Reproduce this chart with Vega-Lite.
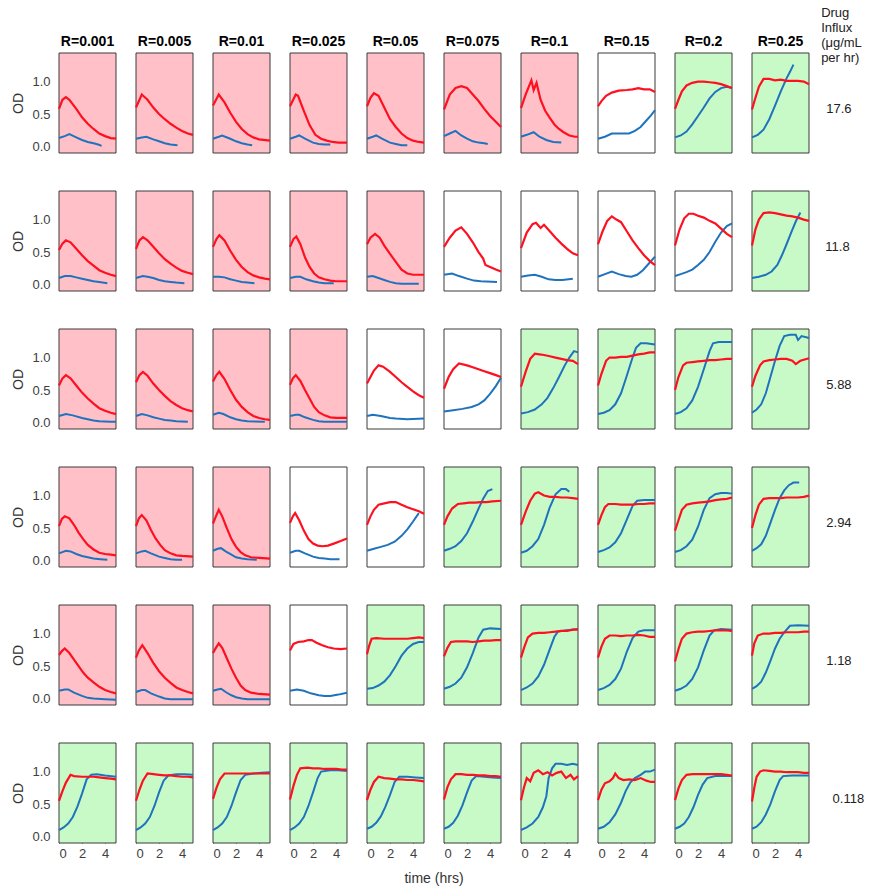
{"$schema":"https://vega.github.io/schema/vega-lite/v6.json","padding":{"left":11,"top":7,"right":2,"bottom":5},"background":"white","bounds":"flush",
"title":{"text":["Drug","Influx","(μg/mL","per hr)"],"orient":"top","anchor":"end","frame":"bounds","angle":0,"align":"left","baseline":"bottom","dx":-43,"fontSize":13,"fontWeight":"normal","font":"Liberation Sans","lineHeight":15,"offset":-43,"color":"#222"},
"datasets":{"panels":[
{"p":0,"R":"0.001","D":"17.6","bg":"k"},{"p":1,"R":"0.005","D":"17.6","bg":"k"},{"p":2,"R":"0.01","D":"17.6","bg":"k"},{"p":3,"R":"0.025","D":"17.6","bg":"k"},{"p":4,"R":"0.05","D":"17.6","bg":"k"},{"p":5,"R":"0.075","D":"17.6","bg":"k"},{"p":6,"R":"0.1","D":"17.6","bg":"k"},{"p":7,"R":"0.15","D":"17.6","bg":"n"},{"p":8,"R":"0.2","D":"17.6","bg":"g"},{"p":9,"R":"0.25","D":"17.6","bg":"g"},
{"p":10,"R":"0.001","D":"11.8","bg":"k"},{"p":11,"R":"0.005","D":"11.8","bg":"k"},{"p":12,"R":"0.01","D":"11.8","bg":"k"},{"p":13,"R":"0.025","D":"11.8","bg":"k"},{"p":14,"R":"0.05","D":"11.8","bg":"k"},{"p":15,"R":"0.075","D":"11.8","bg":"n"},{"p":16,"R":"0.1","D":"11.8","bg":"n"},{"p":17,"R":"0.15","D":"11.8","bg":"n"},{"p":18,"R":"0.2","D":"11.8","bg":"n"},{"p":19,"R":"0.25","D":"11.8","bg":"g"},
{"p":20,"R":"0.001","D":"5.88","bg":"k"},{"p":21,"R":"0.005","D":"5.88","bg":"k"},{"p":22,"R":"0.01","D":"5.88","bg":"k"},{"p":23,"R":"0.025","D":"5.88","bg":"k"},{"p":24,"R":"0.05","D":"5.88","bg":"n"},{"p":25,"R":"0.075","D":"5.88","bg":"n"},{"p":26,"R":"0.1","D":"5.88","bg":"g"},{"p":27,"R":"0.15","D":"5.88","bg":"g"},{"p":28,"R":"0.2","D":"5.88","bg":"g"},{"p":29,"R":"0.25","D":"5.88","bg":"g"},
{"p":30,"R":"0.001","D":"2.94","bg":"k"},{"p":31,"R":"0.005","D":"2.94","bg":"k"},{"p":32,"R":"0.01","D":"2.94","bg":"k"},{"p":33,"R":"0.025","D":"2.94","bg":"n"},{"p":34,"R":"0.05","D":"2.94","bg":"n"},{"p":35,"R":"0.075","D":"2.94","bg":"g"},{"p":36,"R":"0.1","D":"2.94","bg":"g"},{"p":37,"R":"0.15","D":"2.94","bg":"g"},{"p":38,"R":"0.2","D":"2.94","bg":"g"},{"p":39,"R":"0.25","D":"2.94","bg":"g"},
{"p":40,"R":"0.001","D":"1.18","bg":"k"},{"p":41,"R":"0.005","D":"1.18","bg":"k"},{"p":42,"R":"0.01","D":"1.18","bg":"k"},{"p":43,"R":"0.025","D":"1.18","bg":"n"},{"p":44,"R":"0.05","D":"1.18","bg":"g"},{"p":45,"R":"0.075","D":"1.18","bg":"g"},{"p":46,"R":"0.1","D":"1.18","bg":"g"},{"p":47,"R":"0.15","D":"1.18","bg":"g"},{"p":48,"R":"0.2","D":"1.18","bg":"g"},{"p":49,"R":"0.25","D":"1.18","bg":"g"},
{"p":50,"R":"0.001","D":"0.118","bg":"g"},{"p":51,"R":"0.005","D":"0.118","bg":"g"},{"p":52,"R":"0.01","D":"0.118","bg":"g"},{"p":53,"R":"0.025","D":"0.118","bg":"g"},{"p":54,"R":"0.05","D":"0.118","bg":"g"},{"p":55,"R":"0.075","D":"0.118","bg":"g"},{"p":56,"R":"0.1","D":"0.118","bg":"g"},{"p":57,"R":"0.15","D":"0.118","bg":"g"},{"p":58,"R":"0.2","D":"0.118","bg":"g"},{"p":59,"R":"0.25","D":"0.118","bg":"g"}
],
"curves":[
{"p":0,"s":"r","t":0,"y":0.58},{"p":0,"s":"r","t":0.3,"y":0.72},{"p":0,"s":"r","t":0.6,"y":0.76},{"p":0,"s":"r","t":0.9,"y":0.72},{"p":0,"s":"r","t":1.5,"y":0.58},{"p":0,"s":"r","t":2,"y":0.45},{"p":0,"s":"r","t":2.5,"y":0.35},{"p":0,"s":"r","t":3,"y":0.27},{"p":0,"s":"r","t":3.5,"y":0.2},{"p":0,"s":"r","t":4,"y":0.16},{"p":0,"s":"r","t":4.5,"y":0.13},{"p":0,"s":"r","t":4.95,"y":0.12},
{"p":0,"s":"b","t":0,"y":0.13},{"p":0,"s":"b","t":0.5,"y":0.16},{"p":0,"s":"b","t":0.9,"y":0.19},{"p":0,"s":"b","t":1.5,"y":0.14},{"p":0,"s":"b","t":2,"y":0.1},{"p":0,"s":"b","t":2.5,"y":0.07},{"p":0,"s":"b","t":3,"y":0.05},{"p":0,"s":"b","t":3.4,"y":0.03},{"p":0,"s":"b","t":3.7,"y":0.01},
{"p":1,"s":"r","t":0,"y":0.6},{"p":1,"s":"r","t":0.5,"y":0.8},{"p":1,"s":"r","t":1,"y":0.72},{"p":1,"s":"r","t":1.5,"y":0.6},{"p":1,"s":"r","t":2,"y":0.5},{"p":1,"s":"r","t":2.5,"y":0.42},{"p":1,"s":"r","t":3,"y":0.35},{"p":1,"s":"r","t":3.5,"y":0.29},{"p":1,"s":"r","t":4,"y":0.24},{"p":1,"s":"r","t":4.5,"y":0.2},{"p":1,"s":"r","t":4.95,"y":0.18},
{"p":1,"s":"b","t":0,"y":0.12},{"p":1,"s":"b","t":0.5,"y":0.14},{"p":1,"s":"b","t":0.9,"y":0.15},{"p":1,"s":"b","t":1.5,"y":0.11},{"p":1,"s":"b","t":2,"y":0.08},{"p":1,"s":"b","t":2.5,"y":0.05},{"p":1,"s":"b","t":3,"y":0.03},{"p":1,"s":"b","t":3.6,"y":0.02},
{"p":2,"s":"r","t":0,"y":0.63},{"p":2,"s":"r","t":0.5,"y":0.8},{"p":2,"s":"r","t":1,"y":0.68},{"p":2,"s":"r","t":1.5,"y":0.52},{"p":2,"s":"r","t":2,"y":0.38},{"p":2,"s":"r","t":2.5,"y":0.27},{"p":2,"s":"r","t":3,"y":0.19},{"p":2,"s":"r","t":3.5,"y":0.14},{"p":2,"s":"r","t":4,"y":0.11},{"p":2,"s":"r","t":4.95,"y":0.09},
{"p":2,"s":"b","t":0,"y":0.12},{"p":2,"s":"b","t":0.5,"y":0.15},{"p":2,"s":"b","t":0.8,"y":0.17},{"p":2,"s":"b","t":1.5,"y":0.12},{"p":2,"s":"b","t":2,"y":0.08},{"p":2,"s":"b","t":2.5,"y":0.05},{"p":2,"s":"b","t":3,"y":0.03},{"p":2,"s":"b","t":3.4,"y":0.02},
{"p":3,"s":"r","t":0,"y":0.62},{"p":3,"s":"r","t":0.5,"y":0.8},{"p":3,"s":"r","t":0.7,"y":0.78},{"p":3,"s":"r","t":1.2,"y":0.55},{"p":3,"s":"r","t":1.7,"y":0.33},{"p":3,"s":"r","t":2.2,"y":0.18},{"p":3,"s":"r","t":2.7,"y":0.12},{"p":3,"s":"r","t":3.2,"y":0.09},{"p":3,"s":"r","t":3.7,"y":0.07},{"p":3,"s":"r","t":4.2,"y":0.06},{"p":3,"s":"r","t":4.95,"y":0.06},
{"p":3,"s":"b","t":0,"y":0.12},{"p":3,"s":"b","t":0.5,"y":0.15},{"p":3,"s":"b","t":0.8,"y":0.17},{"p":3,"s":"b","t":1.3,"y":0.12},{"p":3,"s":"b","t":2,"y":0.06},{"p":3,"s":"b","t":2.5,"y":0.04},{"p":3,"s":"b","t":3,"y":0.03},{"p":3,"s":"b","t":3.5,"y":0.03},
{"p":4,"s":"r","t":0,"y":0.62},{"p":4,"s":"r","t":0.3,"y":0.75},{"p":4,"s":"r","t":0.6,"y":0.82},{"p":4,"s":"r","t":1,"y":0.78},{"p":4,"s":"r","t":1.5,"y":0.6},{"p":4,"s":"r","t":2,"y":0.42},{"p":4,"s":"r","t":2.5,"y":0.3},{"p":4,"s":"r","t":3,"y":0.2},{"p":4,"s":"r","t":3.5,"y":0.13},{"p":4,"s":"r","t":4,"y":0.09},{"p":4,"s":"r","t":4.5,"y":0.07},{"p":4,"s":"r","t":4.95,"y":0.06},
{"p":4,"s":"b","t":0,"y":0.12},{"p":4,"s":"b","t":0.5,"y":0.15},{"p":4,"s":"b","t":0.8,"y":0.17},{"p":4,"s":"b","t":1.3,"y":0.12},{"p":4,"s":"b","t":2,"y":0.06},{"p":4,"s":"b","t":2.5,"y":0.04},{"p":4,"s":"b","t":3,"y":0.02},{"p":4,"s":"b","t":3.5,"y":0.02},
{"p":5,"s":"r","t":0,"y":0.57},{"p":5,"s":"r","t":0.5,"y":0.8},{"p":5,"s":"r","t":1,"y":0.9},{"p":5,"s":"r","t":1.5,"y":0.93},{"p":5,"s":"r","t":2,"y":0.9},{"p":5,"s":"r","t":2.5,"y":0.8},{"p":5,"s":"r","t":3,"y":0.7},{"p":5,"s":"r","t":3.5,"y":0.58},{"p":5,"s":"r","t":4,"y":0.47},{"p":5,"s":"r","t":4.5,"y":0.38},{"p":5,"s":"r","t":4.95,"y":0.3},
{"p":5,"s":"b","t":0,"y":0.16},{"p":5,"s":"b","t":0.5,"y":0.2},{"p":5,"s":"b","t":1,"y":0.24},{"p":5,"s":"b","t":1.5,"y":0.17},{"p":5,"s":"b","t":2,"y":0.12},{"p":5,"s":"b","t":2.5,"y":0.08},{"p":5,"s":"b","t":3,"y":0.06},{"p":5,"s":"b","t":3.5,"y":0.05},{"p":5,"s":"b","t":3.8,"y":0.04},
{"p":6,"s":"r","t":0,"y":0.59},{"p":6,"s":"r","t":0.4,"y":0.8},{"p":6,"s":"r","t":0.9,"y":1.02},{"p":6,"s":"r","t":1.1,"y":0.87},{"p":6,"s":"r","t":1.35,"y":0.98},{"p":6,"s":"r","t":1.7,"y":0.72},{"p":6,"s":"r","t":2.1,"y":0.55},{"p":6,"s":"r","t":2.5,"y":0.44},{"p":6,"s":"r","t":2.9,"y":0.34},{"p":6,"s":"r","t":3.3,"y":0.27},{"p":6,"s":"r","t":3.7,"y":0.22},{"p":6,"s":"r","t":4.2,"y":0.17},{"p":6,"s":"r","t":4.7,"y":0.15},{"p":6,"s":"r","t":4.95,"y":0.15},
{"p":6,"s":"b","t":0,"y":0.15},{"p":6,"s":"b","t":0.5,"y":0.18},{"p":6,"s":"b","t":1.1,"y":0.22},{"p":6,"s":"b","t":1.6,"y":0.15},{"p":6,"s":"b","t":2.2,"y":0.1},{"p":6,"s":"b","t":2.8,"y":0.07},{"p":6,"s":"b","t":3.5,"y":0.06},
{"p":7,"s":"r","t":0,"y":0.62},{"p":7,"s":"r","t":0.3,"y":0.7},{"p":7,"s":"r","t":0.7,"y":0.78},{"p":7,"s":"r","t":1.2,"y":0.83},{"p":7,"s":"r","t":1.8,"y":0.86},{"p":7,"s":"r","t":2.5,"y":0.87},{"p":7,"s":"r","t":3,"y":0.88},{"p":7,"s":"r","t":3.5,"y":0.9},{"p":7,"s":"r","t":4,"y":0.88},{"p":7,"s":"r","t":4.5,"y":0.88},{"p":7,"s":"r","t":4.95,"y":0.84},
{"p":7,"s":"b","t":0,"y":0.12},{"p":7,"s":"b","t":0.6,"y":0.15},{"p":7,"s":"b","t":1.2,"y":0.2},{"p":7,"s":"b","t":2,"y":0.2},{"p":7,"s":"b","t":2.7,"y":0.2},{"p":7,"s":"b","t":3.2,"y":0.24},{"p":7,"s":"b","t":3.7,"y":0.3},{"p":7,"s":"b","t":4.2,"y":0.4},{"p":7,"s":"b","t":4.6,"y":0.48},{"p":7,"s":"b","t":4.95,"y":0.56},
{"p":8,"s":"r","t":0,"y":0.58},{"p":8,"s":"r","t":0.3,"y":0.72},{"p":8,"s":"r","t":0.6,"y":0.85},{"p":8,"s":"r","t":1,"y":0.94},{"p":8,"s":"r","t":1.5,"y":0.98},{"p":8,"s":"r","t":2,"y":1},{"p":8,"s":"r","t":2.5,"y":1},{"p":8,"s":"r","t":3,"y":0.99},{"p":8,"s":"r","t":3.5,"y":0.98},{"p":8,"s":"r","t":4,"y":0.96},{"p":8,"s":"r","t":4.5,"y":0.93},{"p":8,"s":"r","t":4.95,"y":0.9},
{"p":8,"s":"b","t":0,"y":0.14},{"p":8,"s":"b","t":0.5,"y":0.17},{"p":8,"s":"b","t":1,"y":0.23},{"p":8,"s":"b","t":1.5,"y":0.34},{"p":8,"s":"b","t":2,"y":0.47},{"p":8,"s":"b","t":2.5,"y":0.6},{"p":8,"s":"b","t":3,"y":0.74},{"p":8,"s":"b","t":3.5,"y":0.84},{"p":8,"s":"b","t":4,"y":0.9},{"p":8,"s":"b","t":4.5,"y":0.92},{"p":8,"s":"b","t":4.95,"y":0.9},
{"p":9,"s":"r","t":0,"y":0.57},{"p":9,"s":"r","t":0.3,"y":0.75},{"p":9,"s":"r","t":0.6,"y":0.92},{"p":9,"s":"r","t":1,"y":1.04},{"p":9,"s":"r","t":1.5,"y":1.04},{"p":9,"s":"r","t":2,"y":1.02},{"p":9,"s":"r","t":2.5,"y":1.03},{"p":9,"s":"r","t":3,"y":1.01},{"p":9,"s":"r","t":3.5,"y":1.01},{"p":9,"s":"r","t":4,"y":1.01},{"p":9,"s":"r","t":4.5,"y":1},{"p":9,"s":"r","t":4.95,"y":0.96},
{"p":9,"s":"b","t":0,"y":0.14},{"p":9,"s":"b","t":0.5,"y":0.18},{"p":9,"s":"b","t":1,"y":0.26},{"p":9,"s":"b","t":1.5,"y":0.42},{"p":9,"s":"b","t":2,"y":0.63},{"p":9,"s":"b","t":2.5,"y":0.85},{"p":9,"s":"b","t":3,"y":1.05},{"p":9,"s":"b","t":3.3,"y":1.15},{"p":9,"s":"b","t":3.6,"y":1.26},
{"p":10,"s":"r","t":0,"y":0.53},{"p":10,"s":"r","t":0.3,"y":0.63},{"p":10,"s":"r","t":0.6,"y":0.68},{"p":10,"s":"r","t":1,"y":0.65},{"p":10,"s":"r","t":1.5,"y":0.55},{"p":10,"s":"r","t":2,"y":0.45},{"p":10,"s":"r","t":2.5,"y":0.36},{"p":10,"s":"r","t":3,"y":0.29},{"p":10,"s":"r","t":3.5,"y":0.22},{"p":10,"s":"r","t":4,"y":0.18},{"p":10,"s":"r","t":4.5,"y":0.15},{"p":10,"s":"r","t":4.95,"y":0.13},
{"p":10,"s":"b","t":0,"y":0.1},{"p":10,"s":"b","t":0.5,"y":0.13},{"p":10,"s":"b","t":1,"y":0.13},{"p":10,"s":"b","t":1.5,"y":0.11},{"p":10,"s":"b","t":2,"y":0.09},{"p":10,"s":"b","t":2.5,"y":0.07},{"p":10,"s":"b","t":3,"y":0.05},{"p":10,"s":"b","t":3.5,"y":0.04},{"p":10,"s":"b","t":4.2,"y":0.02},
{"p":11,"s":"r","t":0,"y":0.55},{"p":11,"s":"r","t":0.3,"y":0.68},{"p":11,"s":"r","t":0.6,"y":0.73},{"p":11,"s":"r","t":1,"y":0.68},{"p":11,"s":"r","t":1.5,"y":0.58},{"p":11,"s":"r","t":2,"y":0.48},{"p":11,"s":"r","t":2.5,"y":0.39},{"p":11,"s":"r","t":3,"y":0.32},{"p":11,"s":"r","t":3.5,"y":0.26},{"p":11,"s":"r","t":4,"y":0.21},{"p":11,"s":"r","t":4.5,"y":0.18},{"p":11,"s":"r","t":4.95,"y":0.16},
{"p":11,"s":"b","t":0,"y":0.1},{"p":11,"s":"b","t":0.6,"y":0.13},{"p":11,"s":"b","t":1,"y":0.12},{"p":11,"s":"b","t":1.5,"y":0.1},{"p":11,"s":"b","t":2,"y":0.07},{"p":11,"s":"b","t":2.5,"y":0.05},{"p":11,"s":"b","t":3,"y":0.04},{"p":11,"s":"b","t":3.5,"y":0.03},{"p":11,"s":"b","t":4.2,"y":0.02},
{"p":12,"s":"r","t":0,"y":0.58},{"p":12,"s":"r","t":0.3,"y":0.7},{"p":12,"s":"r","t":0.55,"y":0.76},{"p":12,"s":"r","t":1,"y":0.68},{"p":12,"s":"r","t":1.5,"y":0.52},{"p":12,"s":"r","t":2,"y":0.38},{"p":12,"s":"r","t":2.5,"y":0.27},{"p":12,"s":"r","t":3,"y":0.19},{"p":12,"s":"r","t":3.5,"y":0.14},{"p":12,"s":"r","t":4,"y":0.11},{"p":12,"s":"r","t":4.5,"y":0.09},{"p":12,"s":"r","t":4.95,"y":0.08},
{"p":12,"s":"b","t":0,"y":0.12},{"p":12,"s":"b","t":0.5,"y":0.12},{"p":12,"s":"b","t":1,"y":0.11},{"p":12,"s":"b","t":1.5,"y":0.08},{"p":12,"s":"b","t":2,"y":0.06},{"p":12,"s":"b","t":2.5,"y":0.04},{"p":12,"s":"b","t":3,"y":0.03},{"p":12,"s":"b","t":3.6,"y":0.02},
{"p":13,"s":"r","t":0,"y":0.58},{"p":13,"s":"r","t":0.3,"y":0.7},{"p":13,"s":"r","t":0.55,"y":0.74},{"p":13,"s":"r","t":0.9,"y":0.62},{"p":13,"s":"r","t":1.3,"y":0.42},{"p":13,"s":"r","t":1.7,"y":0.27},{"p":13,"s":"r","t":2.1,"y":0.17},{"p":13,"s":"r","t":2.5,"y":0.11},{"p":13,"s":"r","t":3,"y":0.08},{"p":13,"s":"r","t":3.5,"y":0.06},{"p":13,"s":"r","t":4,"y":0.05},{"p":13,"s":"r","t":4.95,"y":0.05},
{"p":13,"s":"b","t":0,"y":0.1},{"p":13,"s":"b","t":0.5,"y":0.12},{"p":13,"s":"b","t":0.9,"y":0.12},{"p":13,"s":"b","t":1.4,"y":0.08},{"p":13,"s":"b","t":2,"y":0.05},{"p":13,"s":"b","t":2.5,"y":0.03},{"p":13,"s":"b","t":3,"y":0.02},{"p":13,"s":"b","t":3.8,"y":0.02},
{"p":14,"s":"r","t":0,"y":0.62},{"p":14,"s":"r","t":0.3,"y":0.72},{"p":14,"s":"r","t":0.7,"y":0.78},{"p":14,"s":"r","t":1.1,"y":0.72},{"p":14,"s":"r","t":1.5,"y":0.6},{"p":14,"s":"r","t":2,"y":0.47},{"p":14,"s":"r","t":2.5,"y":0.35},{"p":14,"s":"r","t":3,"y":0.23},{"p":14,"s":"r","t":3.5,"y":0.17},{"p":14,"s":"r","t":4,"y":0.15},{"p":14,"s":"r","t":4.95,"y":0.15},
{"p":14,"s":"b","t":0,"y":0.12},{"p":14,"s":"b","t":0.5,"y":0.13},{"p":14,"s":"b","t":1,"y":0.1},{"p":14,"s":"b","t":1.5,"y":0.07},{"p":14,"s":"b","t":2,"y":0.04},{"p":14,"s":"b","t":2.5,"y":0.02},{"p":14,"s":"b","t":3,"y":0.01},{"p":14,"s":"b","t":4.5,"y":0.01},
{"p":15,"s":"r","t":0,"y":0.58},{"p":15,"s":"r","t":0.5,"y":0.72},{"p":15,"s":"r","t":1,"y":0.83},{"p":15,"s":"r","t":1.5,"y":0.88},{"p":15,"s":"r","t":2,"y":0.78},{"p":15,"s":"r","t":2.5,"y":0.65},{"p":15,"s":"r","t":3,"y":0.5},{"p":15,"s":"r","t":3.4,"y":0.4},{"p":15,"s":"r","t":3.6,"y":0.3},{"p":15,"s":"r","t":4,"y":0.27},{"p":15,"s":"r","t":4.5,"y":0.23},{"p":15,"s":"r","t":4.95,"y":0.2},
{"p":15,"s":"b","t":0,"y":0.15},{"p":15,"s":"b","t":0.7,"y":0.17},{"p":15,"s":"b","t":1.3,"y":0.13},{"p":15,"s":"b","t":2,"y":0.09},{"p":15,"s":"b","t":2.6,"y":0.06},{"p":15,"s":"b","t":3.2,"y":0.05},{"p":15,"s":"b","t":4.6,"y":0.04},
{"p":16,"s":"r","t":0,"y":0.56},{"p":16,"s":"r","t":0.5,"y":0.8},{"p":16,"s":"r","t":1,"y":0.93},{"p":16,"s":"r","t":1.3,"y":0.95},{"p":16,"s":"r","t":1.7,"y":0.87},{"p":16,"s":"r","t":2,"y":0.92},{"p":16,"s":"r","t":2.5,"y":0.82},{"p":16,"s":"r","t":3,"y":0.72},{"p":16,"s":"r","t":3.5,"y":0.63},{"p":16,"s":"r","t":4,"y":0.55},{"p":16,"s":"r","t":4.5,"y":0.48},{"p":16,"s":"r","t":4.95,"y":0.45},
{"p":16,"s":"b","t":0,"y":0.12},{"p":16,"s":"b","t":0.6,"y":0.14},{"p":16,"s":"b","t":1.2,"y":0.15},{"p":16,"s":"b","t":1.8,"y":0.12},{"p":16,"s":"b","t":2.4,"y":0.08},{"p":16,"s":"b","t":3,"y":0.07},{"p":16,"s":"b","t":3.6,"y":0.07},{"p":16,"s":"b","t":4.5,"y":0.09},
{"p":17,"s":"r","t":0,"y":0.62},{"p":17,"s":"r","t":0.4,"y":0.82},{"p":17,"s":"r","t":0.8,"y":0.98},{"p":17,"s":"r","t":1.2,"y":1.05},{"p":17,"s":"r","t":1.6,"y":1},{"p":17,"s":"r","t":2,"y":0.96},{"p":17,"s":"r","t":2.5,"y":0.82},{"p":17,"s":"r","t":3,"y":0.68},{"p":17,"s":"r","t":3.5,"y":0.56},{"p":17,"s":"r","t":4,"y":0.45},{"p":17,"s":"r","t":4.5,"y":0.36},{"p":17,"s":"r","t":4.95,"y":0.3},
{"p":17,"s":"b","t":0,"y":0.12},{"p":17,"s":"b","t":0.6,"y":0.16},{"p":17,"s":"b","t":1.2,"y":0.2},{"p":17,"s":"b","t":1.8,"y":0.16},{"p":17,"s":"b","t":2.4,"y":0.13},{"p":17,"s":"b","t":2.9,"y":0.12},{"p":17,"s":"b","t":3.4,"y":0.15},{"p":17,"s":"b","t":3.9,"y":0.22},{"p":17,"s":"b","t":4.4,"y":0.32},{"p":17,"s":"b","t":4.95,"y":0.43},
{"p":18,"s":"r","t":0,"y":0.6},{"p":18,"s":"r","t":0.4,"y":0.85},{"p":18,"s":"r","t":0.8,"y":1.02},{"p":18,"s":"r","t":1.2,"y":1.09},{"p":18,"s":"r","t":1.6,"y":1.09},{"p":18,"s":"r","t":2,"y":1.06},{"p":18,"s":"r","t":2.5,"y":1.03},{"p":18,"s":"r","t":3,"y":0.98},{"p":18,"s":"r","t":3.5,"y":0.94},{"p":18,"s":"r","t":4,"y":0.86},{"p":18,"s":"r","t":4.5,"y":0.78},{"p":18,"s":"r","t":4.95,"y":0.73},
{"p":18,"s":"b","t":0,"y":0.13},{"p":18,"s":"b","t":0.5,"y":0.16},{"p":18,"s":"b","t":1,"y":0.19},{"p":18,"s":"b","t":1.5,"y":0.23},{"p":18,"s":"b","t":2,"y":0.3},{"p":18,"s":"b","t":2.5,"y":0.38},{"p":18,"s":"b","t":3,"y":0.5},{"p":18,"s":"b","t":3.5,"y":0.66},{"p":18,"s":"b","t":4,"y":0.8},{"p":18,"s":"b","t":4.5,"y":0.9},{"p":18,"s":"b","t":4.95,"y":0.94},
{"p":19,"s":"r","t":0,"y":0.6},{"p":19,"s":"r","t":0.3,"y":0.85},{"p":19,"s":"r","t":0.6,"y":1},{"p":19,"s":"r","t":1,"y":1.1},{"p":19,"s":"r","t":1.5,"y":1.11},{"p":19,"s":"r","t":2,"y":1.1},{"p":19,"s":"r","t":2.5,"y":1.08},{"p":19,"s":"r","t":3,"y":1.06},{"p":19,"s":"r","t":3.5,"y":1.05},{"p":19,"s":"r","t":4,"y":1.03},{"p":19,"s":"r","t":4.5,"y":1},{"p":19,"s":"r","t":4.95,"y":0.98},
{"p":19,"s":"b","t":0,"y":0.1},{"p":19,"s":"b","t":0.6,"y":0.12},{"p":19,"s":"b","t":1.2,"y":0.15},{"p":19,"s":"b","t":1.7,"y":0.2},{"p":19,"s":"b","t":2.2,"y":0.3},{"p":19,"s":"b","t":2.6,"y":0.45},{"p":19,"s":"b","t":3,"y":0.62},{"p":19,"s":"b","t":3.4,"y":0.8},{"p":19,"s":"b","t":3.8,"y":0.97},{"p":19,"s":"b","t":4.2,"y":1.11},
{"p":20,"s":"r","t":0,"y":0.57},{"p":20,"s":"r","t":0.3,"y":0.68},{"p":20,"s":"r","t":0.6,"y":0.73},{"p":20,"s":"r","t":1,"y":0.68},{"p":20,"s":"r","t":1.5,"y":0.57},{"p":20,"s":"r","t":2,"y":0.46},{"p":20,"s":"r","t":2.5,"y":0.37},{"p":20,"s":"r","t":3,"y":0.29},{"p":20,"s":"r","t":3.5,"y":0.22},{"p":20,"s":"r","t":4,"y":0.18},{"p":20,"s":"r","t":4.5,"y":0.15},{"p":20,"s":"r","t":4.95,"y":0.13},
{"p":20,"s":"b","t":0,"y":0.1},{"p":20,"s":"b","t":0.6,"y":0.13},{"p":20,"s":"b","t":1.2,"y":0.11},{"p":20,"s":"b","t":2,"y":0.07},{"p":20,"s":"b","t":2.5,"y":0.05},{"p":20,"s":"b","t":3,"y":0.03},{"p":20,"s":"b","t":3.5,"y":0.02},{"p":20,"s":"b","t":4.5,"y":0.01},{"p":20,"s":"b","t":4.95,"y":0.01},
{"p":21,"s":"r","t":0,"y":0.62},{"p":21,"s":"r","t":0.3,"y":0.73},{"p":21,"s":"r","t":0.6,"y":0.78},{"p":21,"s":"r","t":1,"y":0.72},{"p":21,"s":"r","t":1.5,"y":0.6},{"p":21,"s":"r","t":2,"y":0.5},{"p":21,"s":"r","t":2.5,"y":0.41},{"p":21,"s":"r","t":3,"y":0.33},{"p":21,"s":"r","t":3.5,"y":0.27},{"p":21,"s":"r","t":4,"y":0.22},{"p":21,"s":"r","t":4.5,"y":0.19},{"p":21,"s":"r","t":4.95,"y":0.17},
{"p":21,"s":"b","t":0,"y":0.1},{"p":21,"s":"b","t":0.5,"y":0.13},{"p":21,"s":"b","t":1,"y":0.11},{"p":21,"s":"b","t":1.5,"y":0.08},{"p":21,"s":"b","t":2,"y":0.06},{"p":21,"s":"b","t":2.5,"y":0.04},{"p":21,"s":"b","t":3,"y":0.03},{"p":21,"s":"b","t":3.5,"y":0.02},{"p":21,"s":"b","t":4.5,"y":0.01},
{"p":22,"s":"r","t":0,"y":0.63},{"p":22,"s":"r","t":0.3,"y":0.73},{"p":22,"s":"r","t":0.55,"y":0.78},{"p":22,"s":"r","t":1,"y":0.67},{"p":22,"s":"r","t":1.5,"y":0.5},{"p":22,"s":"r","t":2,"y":0.35},{"p":22,"s":"r","t":2.5,"y":0.24},{"p":22,"s":"r","t":3,"y":0.16},{"p":22,"s":"r","t":3.5,"y":0.1},{"p":22,"s":"r","t":4,"y":0.07},{"p":22,"s":"r","t":4.5,"y":0.05},{"p":22,"s":"r","t":4.95,"y":0.04},
{"p":22,"s":"b","t":0,"y":0.12},{"p":22,"s":"b","t":0.5,"y":0.15},{"p":22,"s":"b","t":0.9,"y":0.13},{"p":22,"s":"b","t":1.5,"y":0.08},{"p":22,"s":"b","t":2,"y":0.05},{"p":22,"s":"b","t":2.5,"y":0.03},{"p":22,"s":"b","t":3,"y":0.02},{"p":22,"s":"b","t":4.5,"y":0.01},
{"p":23,"s":"r","t":0,"y":0.58},{"p":23,"s":"r","t":0.25,"y":0.68},{"p":23,"s":"r","t":0.5,"y":0.73},{"p":23,"s":"r","t":0.9,"y":0.64},{"p":23,"s":"r","t":1.3,"y":0.5},{"p":23,"s":"r","t":1.7,"y":0.37},{"p":23,"s":"r","t":2.1,"y":0.24},{"p":23,"s":"r","t":2.5,"y":0.16},{"p":23,"s":"r","t":3,"y":0.11},{"p":23,"s":"r","t":3.5,"y":0.08},{"p":23,"s":"r","t":4,"y":0.07},{"p":23,"s":"r","t":4.95,"y":0.07},
{"p":23,"s":"b","t":0,"y":0.1},{"p":23,"s":"b","t":0.5,"y":0.12},{"p":23,"s":"b","t":0.8,"y":0.12},{"p":23,"s":"b","t":1.3,"y":0.08},{"p":23,"s":"b","t":2,"y":0.04},{"p":23,"s":"b","t":2.5,"y":0.02},{"p":23,"s":"b","t":3,"y":0.01},{"p":23,"s":"b","t":4.95,"y":0.01},
{"p":24,"s":"r","t":0,"y":0.6},{"p":24,"s":"r","t":0.3,"y":0.7},{"p":24,"s":"r","t":0.6,"y":0.8},{"p":24,"s":"r","t":1,"y":0.88},{"p":24,"s":"r","t":1.4,"y":0.86},{"p":24,"s":"r","t":2,"y":0.78},{"p":24,"s":"r","t":2.5,"y":0.7},{"p":24,"s":"r","t":3,"y":0.62},{"p":24,"s":"r","t":3.5,"y":0.55},{"p":24,"s":"r","t":4,"y":0.48},{"p":24,"s":"r","t":4.5,"y":0.42},{"p":24,"s":"r","t":4.95,"y":0.38},
{"p":24,"s":"b","t":0,"y":0.1},{"p":24,"s":"b","t":0.5,"y":0.12},{"p":24,"s":"b","t":1.2,"y":0.1},{"p":24,"s":"b","t":2,"y":0.07},{"p":24,"s":"b","t":2.5,"y":0.06},{"p":24,"s":"b","t":3.5,"y":0.05},{"p":24,"s":"b","t":4.95,"y":0.06},
{"p":25,"s":"r","t":0,"y":0.52},{"p":25,"s":"r","t":0.4,"y":0.7},{"p":25,"s":"r","t":0.8,"y":0.82},{"p":25,"s":"r","t":1.3,"y":0.91},{"p":25,"s":"r","t":2,"y":0.88},{"p":25,"s":"r","t":2.5,"y":0.85},{"p":25,"s":"r","t":3,"y":0.82},{"p":25,"s":"r","t":3.5,"y":0.79},{"p":25,"s":"r","t":4,"y":0.76},{"p":25,"s":"r","t":4.5,"y":0.73},{"p":25,"s":"r","t":4.95,"y":0.7},
{"p":25,"s":"b","t":0,"y":0.17},{"p":25,"s":"b","t":0.8,"y":0.19},{"p":25,"s":"b","t":1.6,"y":0.21},{"p":25,"s":"b","t":2.4,"y":0.24},{"p":25,"s":"b","t":3,"y":0.28},{"p":25,"s":"b","t":3.5,"y":0.34},{"p":25,"s":"b","t":4,"y":0.44},{"p":25,"s":"b","t":4.5,"y":0.56},{"p":25,"s":"b","t":4.95,"y":0.69},
{"p":26,"s":"r","t":0,"y":0.55},{"p":26,"s":"r","t":0.4,"y":0.78},{"p":26,"s":"r","t":0.8,"y":0.98},{"p":26,"s":"r","t":1.2,"y":1.06},{"p":26,"s":"r","t":1.6,"y":1.05},{"p":26,"s":"r","t":2,"y":1.04},{"p":26,"s":"r","t":2.5,"y":1.02},{"p":26,"s":"r","t":3,"y":1},{"p":26,"s":"r","t":3.5,"y":0.98},{"p":26,"s":"r","t":4,"y":0.96},{"p":26,"s":"r","t":4.5,"y":0.95},{"p":26,"s":"r","t":4.95,"y":0.9},
{"p":26,"s":"b","t":0,"y":0.14},{"p":26,"s":"b","t":0.6,"y":0.16},{"p":26,"s":"b","t":1.2,"y":0.2},{"p":26,"s":"b","t":1.8,"y":0.28},{"p":26,"s":"b","t":2.3,"y":0.38},{"p":26,"s":"b","t":2.8,"y":0.53},{"p":26,"s":"b","t":3.3,"y":0.7},{"p":26,"s":"b","t":3.8,"y":0.88},{"p":26,"s":"b","t":4.2,"y":1},{"p":26,"s":"b","t":4.6,"y":1.1},{"p":26,"s":"b","t":4.95,"y":1.08},
{"p":27,"s":"r","t":0,"y":0.57},{"p":27,"s":"r","t":0.3,"y":0.75},{"p":27,"s":"r","t":0.7,"y":0.95},{"p":27,"s":"r","t":1,"y":1},{"p":27,"s":"r","t":1.5,"y":1},{"p":27,"s":"r","t":2,"y":1.01},{"p":27,"s":"r","t":2.5,"y":1.01},{"p":27,"s":"r","t":3,"y":1.03},{"p":27,"s":"r","t":3.5,"y":1.05},{"p":27,"s":"r","t":4,"y":1.06},{"p":27,"s":"r","t":4.5,"y":1.08},{"p":27,"s":"r","t":4.95,"y":1.08},
{"p":27,"s":"b","t":0,"y":0.13},{"p":27,"s":"b","t":0.5,"y":0.15},{"p":27,"s":"b","t":1,"y":0.19},{"p":27,"s":"b","t":1.5,"y":0.28},{"p":27,"s":"b","t":2,"y":0.45},{"p":27,"s":"b","t":2.5,"y":0.72},{"p":27,"s":"b","t":3,"y":1},{"p":27,"s":"b","t":3.3,"y":1.15},{"p":27,"s":"b","t":3.7,"y":1.22},{"p":27,"s":"b","t":4.2,"y":1.22},{"p":27,"s":"b","t":4.95,"y":1.2},
{"p":28,"s":"r","t":0,"y":0.5},{"p":28,"s":"r","t":0.3,"y":0.7},{"p":28,"s":"r","t":0.7,"y":0.88},{"p":28,"s":"r","t":1,"y":0.92},{"p":28,"s":"r","t":1.5,"y":0.93},{"p":28,"s":"r","t":2,"y":0.94},{"p":28,"s":"r","t":2.5,"y":0.95},{"p":28,"s":"r","t":3,"y":0.96},{"p":28,"s":"r","t":3.5,"y":0.96},{"p":28,"s":"r","t":4,"y":0.97},{"p":28,"s":"r","t":4.5,"y":0.98},{"p":28,"s":"r","t":4.95,"y":0.98},
{"p":28,"s":"b","t":0,"y":0.13},{"p":28,"s":"b","t":0.5,"y":0.16},{"p":28,"s":"b","t":1,"y":0.22},{"p":28,"s":"b","t":1.5,"y":0.34},{"p":28,"s":"b","t":2,"y":0.55},{"p":28,"s":"b","t":2.5,"y":0.82},{"p":28,"s":"b","t":3,"y":1.1},{"p":28,"s":"b","t":3.3,"y":1.22},{"p":28,"s":"b","t":3.8,"y":1.24},{"p":28,"s":"b","t":4.5,"y":1.24},{"p":28,"s":"b","t":4.95,"y":1.24},
{"p":29,"s":"r","t":0,"y":0.55},{"p":29,"s":"r","t":0.3,"y":0.72},{"p":29,"s":"r","t":0.7,"y":0.88},{"p":29,"s":"r","t":1,"y":0.94},{"p":29,"s":"r","t":1.5,"y":0.96},{"p":29,"s":"r","t":2,"y":0.97},{"p":29,"s":"r","t":2.5,"y":0.98},{"p":29,"s":"r","t":3,"y":0.98},{"p":29,"s":"r","t":3.5,"y":0.95},{"p":29,"s":"r","t":3.8,"y":0.9},{"p":29,"s":"r","t":4.2,"y":0.95},{"p":29,"s":"r","t":4.95,"y":0.99},
{"p":29,"s":"b","t":0,"y":0.15},{"p":29,"s":"b","t":0.4,"y":0.2},{"p":29,"s":"b","t":0.8,"y":0.28},{"p":29,"s":"b","t":1.2,"y":0.45},{"p":29,"s":"b","t":1.6,"y":0.7},{"p":29,"s":"b","t":2,"y":0.95},{"p":29,"s":"b","t":2.4,"y":1.18},{"p":29,"s":"b","t":2.8,"y":1.33},{"p":29,"s":"b","t":3.3,"y":1.35},{"p":29,"s":"b","t":3.8,"y":1.35},{"p":29,"s":"b","t":4,"y":1.27},{"p":29,"s":"b","t":4.3,"y":1.33},{"p":29,"s":"b","t":4.95,"y":1.3},
{"p":30,"s":"r","t":0,"y":0.53},{"p":30,"s":"r","t":0.25,"y":0.64},{"p":30,"s":"r","t":0.5,"y":0.68},{"p":30,"s":"r","t":0.9,"y":0.65},{"p":30,"s":"r","t":1.3,"y":0.55},{"p":30,"s":"r","t":1.7,"y":0.43},{"p":30,"s":"r","t":2.1,"y":0.33},{"p":30,"s":"r","t":2.5,"y":0.24},{"p":30,"s":"r","t":3,"y":0.17},{"p":30,"s":"r","t":3.5,"y":0.12},{"p":30,"s":"r","t":4,"y":0.1},{"p":30,"s":"r","t":4.5,"y":0.09},{"p":30,"s":"r","t":4.95,"y":0.08},
{"p":30,"s":"b","t":0,"y":0.11},{"p":30,"s":"b","t":0.6,"y":0.15},{"p":30,"s":"b","t":1,"y":0.14},{"p":30,"s":"b","t":1.5,"y":0.1},{"p":30,"s":"b","t":2,"y":0.07},{"p":30,"s":"b","t":2.5,"y":0.05},{"p":30,"s":"b","t":3,"y":0.03},{"p":30,"s":"b","t":3.6,"y":0.02},{"p":30,"s":"b","t":4.2,"y":0.01},
{"p":31,"s":"r","t":0,"y":0.53},{"p":31,"s":"r","t":0.25,"y":0.65},{"p":31,"s":"r","t":0.5,"y":0.7},{"p":31,"s":"r","t":0.9,"y":0.62},{"p":31,"s":"r","t":1.3,"y":0.47},{"p":31,"s":"r","t":1.7,"y":0.34},{"p":31,"s":"r","t":2.1,"y":0.24},{"p":31,"s":"r","t":2.5,"y":0.16},{"p":31,"s":"r","t":3,"y":0.11},{"p":31,"s":"r","t":3.5,"y":0.08},{"p":31,"s":"r","t":4,"y":0.07},{"p":31,"s":"r","t":4.95,"y":0.06},
{"p":31,"s":"b","t":0,"y":0.11},{"p":31,"s":"b","t":0.5,"y":0.14},{"p":31,"s":"b","t":0.8,"y":0.15},{"p":31,"s":"b","t":1.3,"y":0.11},{"p":31,"s":"b","t":2,"y":0.06},{"p":31,"s":"b","t":2.5,"y":0.04},{"p":31,"s":"b","t":3,"y":0.02},{"p":31,"s":"b","t":3.5,"y":0.01},{"p":31,"s":"b","t":4,"y":0.01},
{"p":32,"s":"r","t":0,"y":0.57},{"p":32,"s":"r","t":0.25,"y":0.68},{"p":32,"s":"r","t":0.5,"y":0.78},{"p":32,"s":"r","t":0.8,"y":0.68},{"p":32,"s":"r","t":1.2,"y":0.5},{"p":32,"s":"r","t":1.6,"y":0.33},{"p":32,"s":"r","t":2,"y":0.21},{"p":32,"s":"r","t":2.4,"y":0.13},{"p":32,"s":"r","t":2.8,"y":0.08},{"p":32,"s":"r","t":3.3,"y":0.05},{"p":32,"s":"r","t":4,"y":0.04},{"p":32,"s":"r","t":4.95,"y":0.03},
{"p":32,"s":"b","t":0,"y":0.15},{"p":32,"s":"b","t":0.4,"y":0.18},{"p":32,"s":"b","t":0.7,"y":0.19},{"p":32,"s":"b","t":1.1,"y":0.14},{"p":32,"s":"b","t":1.6,"y":0.09},{"p":32,"s":"b","t":2,"y":0.05},{"p":32,"s":"b","t":2.5,"y":0.03},{"p":32,"s":"b","t":3,"y":0.02},{"p":32,"s":"b","t":3.8,"y":0.01},
{"p":33,"s":"r","t":0,"y":0.58},{"p":33,"s":"r","t":0.25,"y":0.68},{"p":33,"s":"r","t":0.45,"y":0.73},{"p":33,"s":"r","t":0.8,"y":0.62},{"p":33,"s":"r","t":1.2,"y":0.46},{"p":33,"s":"r","t":1.6,"y":0.33},{"p":33,"s":"r","t":2,"y":0.26},{"p":33,"s":"r","t":2.4,"y":0.23},{"p":33,"s":"r","t":2.8,"y":0.22},{"p":33,"s":"r","t":3.3,"y":0.23},{"p":33,"s":"r","t":3.8,"y":0.26},{"p":33,"s":"r","t":4.4,"y":0.3},{"p":33,"s":"r","t":4.95,"y":0.34},
{"p":33,"s":"b","t":0,"y":0.12},{"p":33,"s":"b","t":0.5,"y":0.15},{"p":33,"s":"b","t":0.8,"y":0.15},{"p":33,"s":"b","t":1.3,"y":0.11},{"p":33,"s":"b","t":2,"y":0.06},{"p":33,"s":"b","t":2.5,"y":0.04},{"p":33,"s":"b","t":3,"y":0.03},{"p":33,"s":"b","t":3.5,"y":0.02},{"p":33,"s":"b","t":4.3,"y":0.02},
{"p":34,"s":"r","t":0,"y":0.55},{"p":34,"s":"r","t":0.3,"y":0.68},{"p":34,"s":"r","t":0.6,"y":0.78},{"p":34,"s":"r","t":1,"y":0.86},{"p":34,"s":"r","t":1.5,"y":0.88},{"p":34,"s":"r","t":2,"y":0.9},{"p":34,"s":"r","t":2.5,"y":0.9},{"p":34,"s":"r","t":3,"y":0.86},{"p":34,"s":"r","t":3.5,"y":0.82},{"p":34,"s":"r","t":4,"y":0.79},{"p":34,"s":"r","t":4.5,"y":0.76},{"p":34,"s":"r","t":4.95,"y":0.72},
{"p":34,"s":"b","t":0,"y":0.15},{"p":34,"s":"b","t":0.6,"y":0.18},{"p":34,"s":"b","t":1.2,"y":0.21},{"p":34,"s":"b","t":1.8,"y":0.24},{"p":34,"s":"b","t":2.4,"y":0.29},{"p":34,"s":"b","t":3,"y":0.38},{"p":34,"s":"b","t":3.5,"y":0.48},{"p":34,"s":"b","t":4,"y":0.6},{"p":34,"s":"b","t":4.5,"y":0.73},
{"p":35,"s":"r","t":0,"y":0.55},{"p":35,"s":"r","t":0.3,"y":0.68},{"p":35,"s":"r","t":0.7,"y":0.8},{"p":35,"s":"r","t":1.2,"y":0.87},{"p":35,"s":"r","t":1.7,"y":0.88},{"p":35,"s":"r","t":2.2,"y":0.89},{"p":35,"s":"r","t":2.7,"y":0.89},{"p":35,"s":"r","t":3.2,"y":0.9},{"p":35,"s":"r","t":3.7,"y":0.9},{"p":35,"s":"r","t":4.2,"y":0.91},{"p":35,"s":"r","t":4.95,"y":0.92},
{"p":35,"s":"b","t":0,"y":0.15},{"p":35,"s":"b","t":0.5,"y":0.18},{"p":35,"s":"b","t":1,"y":0.22},{"p":35,"s":"b","t":1.5,"y":0.3},{"p":35,"s":"b","t":2,"y":0.42},{"p":35,"s":"b","t":2.5,"y":0.6},{"p":35,"s":"b","t":3,"y":0.8},{"p":35,"s":"b","t":3.4,"y":0.95},{"p":35,"s":"b","t":3.8,"y":1.07},{"p":35,"s":"b","t":4.2,"y":1.1},
{"p":36,"s":"r","t":0,"y":0.55},{"p":36,"s":"r","t":0.4,"y":0.75},{"p":36,"s":"r","t":0.8,"y":0.92},{"p":36,"s":"r","t":1.2,"y":1.03},{"p":36,"s":"r","t":1.5,"y":1.05},{"p":36,"s":"r","t":2,"y":1},{"p":36,"s":"r","t":2.5,"y":0.98},{"p":36,"s":"r","t":3,"y":0.98},{"p":36,"s":"r","t":3.5,"y":0.97},{"p":36,"s":"r","t":4,"y":0.97},{"p":36,"s":"r","t":4.5,"y":0.96},{"p":36,"s":"r","t":4.95,"y":0.95},
{"p":36,"s":"b","t":0,"y":0.12},{"p":36,"s":"b","t":0.5,"y":0.15},{"p":36,"s":"b","t":1,"y":0.22},{"p":36,"s":"b","t":1.5,"y":0.33},{"p":36,"s":"b","t":2,"y":0.55},{"p":36,"s":"b","t":2.5,"y":0.82},{"p":36,"s":"b","t":3,"y":1.02},{"p":36,"s":"b","t":3.5,"y":1.1},{"p":36,"s":"b","t":3.9,"y":1.1},{"p":36,"s":"b","t":4.2,"y":1.06},
{"p":37,"s":"r","t":0,"y":0.55},{"p":37,"s":"r","t":0.3,"y":0.7},{"p":37,"s":"r","t":0.6,"y":0.82},{"p":37,"s":"r","t":0.9,"y":0.87},{"p":37,"s":"r","t":1.5,"y":0.87},{"p":37,"s":"r","t":2,"y":0.86},{"p":37,"s":"r","t":2.5,"y":0.86},{"p":37,"s":"r","t":3,"y":0.86},{"p":37,"s":"r","t":3.5,"y":0.87},{"p":37,"s":"r","t":4,"y":0.87},{"p":37,"s":"r","t":4.5,"y":0.88},{"p":37,"s":"r","t":4.95,"y":0.88},
{"p":37,"s":"b","t":0,"y":0.13},{"p":37,"s":"b","t":0.5,"y":0.16},{"p":37,"s":"b","t":1,"y":0.2},{"p":37,"s":"b","t":1.5,"y":0.28},{"p":37,"s":"b","t":2,"y":0.42},{"p":37,"s":"b","t":2.5,"y":0.63},{"p":37,"s":"b","t":3,"y":0.84},{"p":37,"s":"b","t":3.4,"y":0.92},{"p":37,"s":"b","t":4,"y":0.93},{"p":37,"s":"b","t":4.95,"y":0.93},
{"p":38,"s":"r","t":0,"y":0.46},{"p":38,"s":"r","t":0.3,"y":0.62},{"p":38,"s":"r","t":0.6,"y":0.78},{"p":38,"s":"r","t":1,"y":0.86},{"p":38,"s":"r","t":1.5,"y":0.88},{"p":38,"s":"r","t":2,"y":0.89},{"p":38,"s":"r","t":2.5,"y":0.9},{"p":38,"s":"r","t":3,"y":0.91},{"p":38,"s":"r","t":3.5,"y":0.93},{"p":38,"s":"r","t":4,"y":0.94},{"p":38,"s":"r","t":4.5,"y":0.95},{"p":38,"s":"r","t":4.95,"y":0.97},
{"p":38,"s":"b","t":0,"y":0.13},{"p":38,"s":"b","t":0.5,"y":0.16},{"p":38,"s":"b","t":1,"y":0.22},{"p":38,"s":"b","t":1.5,"y":0.32},{"p":38,"s":"b","t":2,"y":0.52},{"p":38,"s":"b","t":2.5,"y":0.78},{"p":38,"s":"b","t":3,"y":0.96},{"p":38,"s":"b","t":3.5,"y":1.02},{"p":38,"s":"b","t":4,"y":1.04},{"p":38,"s":"b","t":4.5,"y":1.04},{"p":38,"s":"b","t":4.95,"y":1.03},
{"p":39,"s":"r","t":0,"y":0.5},{"p":39,"s":"r","t":0.3,"y":0.7},{"p":39,"s":"r","t":0.6,"y":0.86},{"p":39,"s":"r","t":1,"y":0.95},{"p":39,"s":"r","t":1.5,"y":0.96},{"p":39,"s":"r","t":2,"y":0.96},{"p":39,"s":"r","t":2.5,"y":0.96},{"p":39,"s":"r","t":3,"y":0.97},{"p":39,"s":"r","t":3.5,"y":0.97},{"p":39,"s":"r","t":4,"y":0.97},{"p":39,"s":"r","t":4.5,"y":0.98},{"p":39,"s":"r","t":4.95,"y":1},
{"p":39,"s":"b","t":0,"y":0.15},{"p":39,"s":"b","t":0.4,"y":0.19},{"p":39,"s":"b","t":0.8,"y":0.25},{"p":39,"s":"b","t":1.2,"y":0.38},{"p":39,"s":"b","t":1.6,"y":0.58},{"p":39,"s":"b","t":2,"y":0.78},{"p":39,"s":"b","t":2.4,"y":0.96},{"p":39,"s":"b","t":2.8,"y":1.08},{"p":39,"s":"b","t":3.2,"y":1.16},{"p":39,"s":"b","t":3.6,"y":1.2},{"p":39,"s":"b","t":4.1,"y":1.2},
{"p":40,"s":"r","t":0,"y":0.67},{"p":40,"s":"r","t":0.25,"y":0.73},{"p":40,"s":"r","t":0.5,"y":0.77},{"p":40,"s":"r","t":0.9,"y":0.7},{"p":40,"s":"r","t":1.3,"y":0.6},{"p":40,"s":"r","t":1.7,"y":0.5},{"p":40,"s":"r","t":2.1,"y":0.4},{"p":40,"s":"r","t":2.5,"y":0.32},{"p":40,"s":"r","t":3,"y":0.25},{"p":40,"s":"r","t":3.5,"y":0.18},{"p":40,"s":"r","t":4,"y":0.13},{"p":40,"s":"r","t":4.5,"y":0.1},{"p":40,"s":"r","t":4.95,"y":0.08},
{"p":40,"s":"b","t":0,"y":0.12},{"p":40,"s":"b","t":0.5,"y":0.14},{"p":40,"s":"b","t":0.8,"y":0.14},{"p":40,"s":"b","t":1.3,"y":0.09},{"p":40,"s":"b","t":2,"y":0.04},{"p":40,"s":"b","t":2.5,"y":0.01},{"p":40,"s":"b","t":3,"y":0},{"p":40,"s":"b","t":4,"y":-0.01},{"p":40,"s":"b","t":4.95,"y":-0.02},
{"p":41,"s":"r","t":0,"y":0.63},{"p":41,"s":"r","t":0.25,"y":0.74},{"p":41,"s":"r","t":0.55,"y":0.82},{"p":41,"s":"r","t":1,"y":0.7},{"p":41,"s":"r","t":1.5,"y":0.55},{"p":41,"s":"r","t":2,"y":0.42},{"p":41,"s":"r","t":2.5,"y":0.32},{"p":41,"s":"r","t":3,"y":0.24},{"p":41,"s":"r","t":3.5,"y":0.17},{"p":41,"s":"r","t":4,"y":0.13},{"p":41,"s":"r","t":4.5,"y":0.1},{"p":41,"s":"r","t":4.95,"y":0.08},
{"p":41,"s":"b","t":0,"y":0.1},{"p":41,"s":"b","t":0.5,"y":0.13},{"p":41,"s":"b","t":0.8,"y":0.13},{"p":41,"s":"b","t":1.3,"y":0.08},{"p":41,"s":"b","t":2,"y":0.03},{"p":41,"s":"b","t":2.5,"y":0},{"p":41,"s":"b","t":3,"y":-0.01},{"p":41,"s":"b","t":4.95,"y":-0.01},
{"p":42,"s":"r","t":0,"y":0.7},{"p":42,"s":"r","t":0.25,"y":0.78},{"p":42,"s":"r","t":0.5,"y":0.85},{"p":42,"s":"r","t":0.8,"y":0.78},{"p":42,"s":"r","t":1.2,"y":0.62},{"p":42,"s":"r","t":1.6,"y":0.46},{"p":42,"s":"r","t":2,"y":0.32},{"p":42,"s":"r","t":2.4,"y":0.2},{"p":42,"s":"r","t":2.8,"y":0.13},{"p":42,"s":"r","t":3.3,"y":0.09},{"p":42,"s":"r","t":4,"y":0.07},{"p":42,"s":"r","t":4.95,"y":0.06},
{"p":42,"s":"b","t":0,"y":0.12},{"p":42,"s":"b","t":0.4,"y":0.14},{"p":42,"s":"b","t":0.7,"y":0.15},{"p":42,"s":"b","t":1.1,"y":0.1},{"p":42,"s":"b","t":1.6,"y":0.05},{"p":42,"s":"b","t":2,"y":0.02},{"p":42,"s":"b","t":2.5,"y":0},{"p":42,"s":"b","t":3,"y":-0.01},{"p":42,"s":"b","t":4.95,"y":-0.01},
{"p":43,"s":"r","t":0,"y":0.74},{"p":43,"s":"r","t":0.3,"y":0.84},{"p":43,"s":"r","t":0.7,"y":0.87},{"p":43,"s":"r","t":1.2,"y":0.88},{"p":43,"s":"r","t":1.6,"y":0.9},{"p":43,"s":"r","t":1.9,"y":0.9},{"p":43,"s":"r","t":2.3,"y":0.86},{"p":43,"s":"r","t":2.8,"y":0.82},{"p":43,"s":"r","t":3.3,"y":0.79},{"p":43,"s":"r","t":3.8,"y":0.77},{"p":43,"s":"r","t":4.4,"y":0.76},{"p":43,"s":"r","t":4.95,"y":0.77},
{"p":43,"s":"b","t":0,"y":0.12},{"p":43,"s":"b","t":0.6,"y":0.14},{"p":43,"s":"b","t":1.2,"y":0.12},{"p":43,"s":"b","t":1.8,"y":0.08},{"p":43,"s":"b","t":2.5,"y":0.05},{"p":43,"s":"b","t":3,"y":0.04},{"p":43,"s":"b","t":3.5,"y":0.04},{"p":43,"s":"b","t":4.2,"y":0.06},{"p":43,"s":"b","t":4.95,"y":0.09},
{"p":44,"s":"r","t":0,"y":0.68},{"p":44,"s":"r","t":0.2,"y":0.82},{"p":44,"s":"r","t":0.4,"y":0.92},{"p":44,"s":"r","t":0.8,"y":0.93},{"p":44,"s":"r","t":1.5,"y":0.92},{"p":44,"s":"r","t":2,"y":0.92},{"p":44,"s":"r","t":2.5,"y":0.92},{"p":44,"s":"r","t":3,"y":0.92},{"p":44,"s":"r","t":3.5,"y":0.92},{"p":44,"s":"r","t":4,"y":0.93},{"p":44,"s":"r","t":4.5,"y":0.94},{"p":44,"s":"r","t":4.95,"y":0.93},
{"p":44,"s":"b","t":0,"y":0.15},{"p":44,"s":"b","t":0.5,"y":0.16},{"p":44,"s":"b","t":1,"y":0.2},{"p":44,"s":"b","t":1.5,"y":0.26},{"p":44,"s":"b","t":2,"y":0.36},{"p":44,"s":"b","t":2.5,"y":0.5},{"p":44,"s":"b","t":3,"y":0.66},{"p":44,"s":"b","t":3.5,"y":0.77},{"p":44,"s":"b","t":4,"y":0.84},{"p":44,"s":"b","t":4.5,"y":0.87},{"p":44,"s":"b","t":4.95,"y":0.87},
{"p":45,"s":"r","t":0,"y":0.65},{"p":45,"s":"r","t":0.3,"y":0.78},{"p":45,"s":"r","t":0.6,"y":0.87},{"p":45,"s":"r","t":1,"y":0.88},{"p":45,"s":"r","t":1.5,"y":0.88},{"p":45,"s":"r","t":2,"y":0.88},{"p":45,"s":"r","t":2.5,"y":0.87},{"p":45,"s":"r","t":3,"y":0.88},{"p":45,"s":"r","t":3.5,"y":0.89},{"p":45,"s":"r","t":4,"y":0.89},{"p":45,"s":"r","t":4.5,"y":0.9},{"p":45,"s":"r","t":4.95,"y":0.9},
{"p":45,"s":"b","t":0,"y":0.15},{"p":45,"s":"b","t":0.5,"y":0.18},{"p":45,"s":"b","t":1,"y":0.23},{"p":45,"s":"b","t":1.5,"y":0.32},{"p":45,"s":"b","t":2,"y":0.48},{"p":45,"s":"b","t":2.5,"y":0.7},{"p":45,"s":"b","t":3,"y":0.94},{"p":45,"s":"b","t":3.4,"y":1.06},{"p":45,"s":"b","t":4,"y":1.08},{"p":45,"s":"b","t":4.95,"y":1.07},
{"p":46,"s":"r","t":0,"y":0.63},{"p":46,"s":"r","t":0.3,"y":0.8},{"p":46,"s":"r","t":0.6,"y":0.94},{"p":46,"s":"r","t":1,"y":1},{"p":46,"s":"r","t":1.5,"y":1.01},{"p":46,"s":"r","t":2,"y":1.01},{"p":46,"s":"r","t":2.5,"y":1.02},{"p":46,"s":"r","t":3,"y":1.03},{"p":46,"s":"r","t":3.5,"y":1.04},{"p":46,"s":"r","t":4,"y":1.04},{"p":46,"s":"r","t":4.5,"y":1.06},{"p":46,"s":"r","t":4.95,"y":1.06},
{"p":46,"s":"b","t":0,"y":0.13},{"p":46,"s":"b","t":0.5,"y":0.17},{"p":46,"s":"b","t":1,"y":0.23},{"p":46,"s":"b","t":1.5,"y":0.34},{"p":46,"s":"b","t":2,"y":0.52},{"p":46,"s":"b","t":2.5,"y":0.76},{"p":46,"s":"b","t":2.9,"y":0.95},{"p":46,"s":"b","t":3.2,"y":1.03},{"p":46,"s":"b","t":4,"y":1.05},{"p":46,"s":"b","t":4.95,"y":1.07},
{"p":47,"s":"r","t":0,"y":0.63},{"p":47,"s":"r","t":0.3,"y":0.8},{"p":47,"s":"r","t":0.6,"y":0.92},{"p":47,"s":"r","t":1,"y":0.97},{"p":47,"s":"r","t":1.5,"y":0.97},{"p":47,"s":"r","t":2,"y":0.96},{"p":47,"s":"r","t":2.5,"y":0.97},{"p":47,"s":"r","t":3,"y":0.97},{"p":47,"s":"r","t":3.5,"y":0.98},{"p":47,"s":"r","t":4,"y":0.97},{"p":47,"s":"r","t":4.5,"y":0.95},{"p":47,"s":"r","t":4.95,"y":0.95},
{"p":47,"s":"b","t":0,"y":0.13},{"p":47,"s":"b","t":0.5,"y":0.16},{"p":47,"s":"b","t":1,"y":0.21},{"p":47,"s":"b","t":1.5,"y":0.3},{"p":47,"s":"b","t":2,"y":0.46},{"p":47,"s":"b","t":2.5,"y":0.72},{"p":47,"s":"b","t":3,"y":0.93},{"p":47,"s":"b","t":3.5,"y":1.03},{"p":47,"s":"b","t":4,"y":1.05},{"p":47,"s":"b","t":4.95,"y":1.05},
{"p":48,"s":"r","t":0,"y":0.57},{"p":48,"s":"r","t":0.3,"y":0.76},{"p":48,"s":"r","t":0.6,"y":0.92},{"p":48,"s":"r","t":1,"y":1},{"p":48,"s":"r","t":1.5,"y":1.02},{"p":48,"s":"r","t":2,"y":1.03},{"p":48,"s":"r","t":2.5,"y":1.03},{"p":48,"s":"r","t":3,"y":1.04},{"p":48,"s":"r","t":3.5,"y":1.05},{"p":48,"s":"r","t":4,"y":1.05},{"p":48,"s":"r","t":4.5,"y":1.05},{"p":48,"s":"r","t":4.95,"y":1.04},
{"p":48,"s":"b","t":0,"y":0.12},{"p":48,"s":"b","t":0.5,"y":0.15},{"p":48,"s":"b","t":1,"y":0.2},{"p":48,"s":"b","t":1.5,"y":0.3},{"p":48,"s":"b","t":2,"y":0.48},{"p":48,"s":"b","t":2.5,"y":0.74},{"p":48,"s":"b","t":3,"y":0.97},{"p":48,"s":"b","t":3.4,"y":1.05},{"p":48,"s":"b","t":4,"y":1.07},{"p":48,"s":"b","t":4.95,"y":1.06},
{"p":49,"s":"r","t":0,"y":0.66},{"p":49,"s":"r","t":0.2,"y":0.85},{"p":49,"s":"r","t":0.5,"y":0.97},{"p":49,"s":"r","t":1,"y":1},{"p":49,"s":"r","t":1.5,"y":1},{"p":49,"s":"r","t":2,"y":1.01},{"p":49,"s":"r","t":2.5,"y":1.01},{"p":49,"s":"r","t":3,"y":1.02},{"p":49,"s":"r","t":3.5,"y":1.02},{"p":49,"s":"r","t":4,"y":1.02},{"p":49,"s":"r","t":4.5,"y":1.03},{"p":49,"s":"r","t":4.95,"y":1.03},
{"p":49,"s":"b","t":0,"y":0.15},{"p":49,"s":"b","t":0.4,"y":0.19},{"p":49,"s":"b","t":0.8,"y":0.26},{"p":49,"s":"b","t":1.2,"y":0.4},{"p":49,"s":"b","t":1.6,"y":0.58},{"p":49,"s":"b","t":2,"y":0.77},{"p":49,"s":"b","t":2.4,"y":0.92},{"p":49,"s":"b","t":2.8,"y":1.02},{"p":49,"s":"b","t":3.3,"y":1.12},{"p":49,"s":"b","t":4,"y":1.13},{"p":49,"s":"b","t":4.95,"y":1.12},
{"p":50,"s":"r","t":0,"y":0.55},{"p":50,"s":"r","t":0.3,"y":0.7},{"p":50,"s":"r","t":0.6,"y":0.83},{"p":50,"s":"r","t":1,"y":0.95},{"p":50,"s":"r","t":1.3,"y":0.93},{"p":50,"s":"r","t":2,"y":0.92},{"p":50,"s":"r","t":2.5,"y":0.92},{"p":50,"s":"r","t":3,"y":0.92},{"p":50,"s":"r","t":3.5,"y":0.91},{"p":50,"s":"r","t":4,"y":0.9},{"p":50,"s":"r","t":4.5,"y":0.89},{"p":50,"s":"r","t":4.95,"y":0.88},
{"p":50,"s":"b","t":0,"y":0.1},{"p":50,"s":"b","t":0.4,"y":0.14},{"p":50,"s":"b","t":0.8,"y":0.2},{"p":50,"s":"b","t":1.2,"y":0.3},{"p":50,"s":"b","t":1.6,"y":0.46},{"p":50,"s":"b","t":2,"y":0.66},{"p":50,"s":"b","t":2.4,"y":0.88},{"p":50,"s":"b","t":2.8,"y":0.95},{"p":50,"s":"b","t":3.3,"y":0.96},{"p":50,"s":"b","t":4,"y":0.94},{"p":50,"s":"b","t":4.95,"y":0.92},
{"p":51,"s":"r","t":0,"y":0.55},{"p":51,"s":"r","t":0.3,"y":0.72},{"p":51,"s":"r","t":0.6,"y":0.86},{"p":51,"s":"r","t":1,"y":0.97},{"p":51,"s":"r","t":1.5,"y":0.96},{"p":51,"s":"r","t":2,"y":0.95},{"p":51,"s":"r","t":2.5,"y":0.94},{"p":51,"s":"r","t":3,"y":0.94},{"p":51,"s":"r","t":3.5,"y":0.93},{"p":51,"s":"r","t":4,"y":0.92},{"p":51,"s":"r","t":4.5,"y":0.92},{"p":51,"s":"r","t":4.95,"y":0.91},
{"p":51,"s":"b","t":0,"y":0.1},{"p":51,"s":"b","t":0.4,"y":0.14},{"p":51,"s":"b","t":0.8,"y":0.2},{"p":51,"s":"b","t":1.2,"y":0.3},{"p":51,"s":"b","t":1.6,"y":0.47},{"p":51,"s":"b","t":2,"y":0.68},{"p":51,"s":"b","t":2.4,"y":0.86},{"p":51,"s":"b","t":2.8,"y":0.94},{"p":51,"s":"b","t":3.5,"y":0.96},{"p":51,"s":"b","t":4.2,"y":0.96},{"p":51,"s":"b","t":4.95,"y":0.95},
{"p":52,"s":"r","t":0,"y":0.58},{"p":52,"s":"r","t":0.3,"y":0.75},{"p":52,"s":"r","t":0.6,"y":0.88},{"p":52,"s":"r","t":1,"y":0.97},{"p":52,"s":"r","t":1.5,"y":0.97},{"p":52,"s":"r","t":2,"y":0.97},{"p":52,"s":"r","t":3,"y":0.97},{"p":52,"s":"r","t":4,"y":0.97},{"p":52,"s":"r","t":4.95,"y":0.97},
{"p":52,"s":"b","t":0,"y":0.1},{"p":52,"s":"b","t":0.4,"y":0.14},{"p":52,"s":"b","t":0.8,"y":0.2},{"p":52,"s":"b","t":1.2,"y":0.3},{"p":52,"s":"b","t":1.6,"y":0.47},{"p":52,"s":"b","t":2,"y":0.68},{"p":52,"s":"b","t":2.4,"y":0.87},{"p":52,"s":"b","t":2.8,"y":0.95},{"p":52,"s":"b","t":3.5,"y":0.97},{"p":52,"s":"b","t":4.2,"y":0.98},{"p":52,"s":"b","t":4.95,"y":0.99},
{"p":53,"s":"r","t":0,"y":0.57},{"p":53,"s":"r","t":0.3,"y":0.78},{"p":53,"s":"r","t":0.6,"y":0.95},{"p":53,"s":"r","t":0.9,"y":1.05},{"p":53,"s":"r","t":1.5,"y":1.06},{"p":53,"s":"r","t":2,"y":1.05},{"p":53,"s":"r","t":2.5,"y":1.05},{"p":53,"s":"r","t":3,"y":1.04},{"p":53,"s":"r","t":3.5,"y":1.04},{"p":53,"s":"r","t":4,"y":1.04},{"p":53,"s":"r","t":4.5,"y":1.03},{"p":53,"s":"r","t":4.95,"y":1.03},
{"p":53,"s":"b","t":0,"y":0.1},{"p":53,"s":"b","t":0.4,"y":0.14},{"p":53,"s":"b","t":0.8,"y":0.2},{"p":53,"s":"b","t":1.2,"y":0.3},{"p":53,"s":"b","t":1.6,"y":0.47},{"p":53,"s":"b","t":2,"y":0.68},{"p":53,"s":"b","t":2.4,"y":0.9},{"p":53,"s":"b","t":2.7,"y":1},{"p":53,"s":"b","t":3.5,"y":1.02},{"p":53,"s":"b","t":4.2,"y":1.02},{"p":53,"s":"b","t":4.95,"y":1.01},
{"p":54,"s":"r","t":0,"y":0.56},{"p":54,"s":"r","t":0.3,"y":0.72},{"p":54,"s":"r","t":0.6,"y":0.84},{"p":54,"s":"r","t":1,"y":0.92},{"p":54,"s":"r","t":1.5,"y":0.9},{"p":54,"s":"r","t":2,"y":0.89},{"p":54,"s":"r","t":2.5,"y":0.88},{"p":54,"s":"r","t":3,"y":0.88},{"p":54,"s":"r","t":3.5,"y":0.87},{"p":54,"s":"r","t":4,"y":0.87},{"p":54,"s":"r","t":4.5,"y":0.86},{"p":54,"s":"r","t":4.95,"y":0.85},
{"p":54,"s":"b","t":0,"y":0.12},{"p":54,"s":"b","t":0.4,"y":0.15},{"p":54,"s":"b","t":0.8,"y":0.21},{"p":54,"s":"b","t":1.2,"y":0.31},{"p":54,"s":"b","t":1.6,"y":0.46},{"p":54,"s":"b","t":2,"y":0.64},{"p":54,"s":"b","t":2.4,"y":0.84},{"p":54,"s":"b","t":2.8,"y":0.92},{"p":54,"s":"b","t":3.5,"y":0.92},{"p":54,"s":"b","t":4.2,"y":0.91},{"p":54,"s":"b","t":4.95,"y":0.9},
{"p":55,"s":"r","t":0,"y":0.57},{"p":55,"s":"r","t":0.3,"y":0.76},{"p":55,"s":"r","t":0.6,"y":0.88},{"p":55,"s":"r","t":1,"y":0.96},{"p":55,"s":"r","t":1.5,"y":0.96},{"p":55,"s":"r","t":2,"y":0.95},{"p":55,"s":"r","t":2.5,"y":0.95},{"p":55,"s":"r","t":3,"y":0.94},{"p":55,"s":"r","t":3.5,"y":0.94},{"p":55,"s":"r","t":4,"y":0.93},{"p":55,"s":"r","t":4.5,"y":0.93},{"p":55,"s":"r","t":4.95,"y":0.92},
{"p":55,"s":"b","t":0,"y":0.12},{"p":55,"s":"b","t":0.4,"y":0.15},{"p":55,"s":"b","t":0.8,"y":0.21},{"p":55,"s":"b","t":1.2,"y":0.32},{"p":55,"s":"b","t":1.6,"y":0.48},{"p":55,"s":"b","t":2,"y":0.68},{"p":55,"s":"b","t":2.4,"y":0.86},{"p":55,"s":"b","t":2.8,"y":0.93},{"p":55,"s":"b","t":3.5,"y":0.92},{"p":55,"s":"b","t":4.2,"y":0.91},{"p":55,"s":"b","t":4.95,"y":0.9},
{"p":56,"s":"r","t":0,"y":0.56},{"p":56,"s":"r","t":0.25,"y":0.75},{"p":56,"s":"r","t":0.5,"y":0.9},{"p":56,"s":"r","t":0.8,"y":0.85},{"p":56,"s":"r","t":1.1,"y":0.98},{"p":56,"s":"r","t":1.5,"y":1.02},{"p":56,"s":"r","t":1.9,"y":0.96},{"p":56,"s":"r","t":2.3,"y":0.99},{"p":56,"s":"r","t":2.7,"y":0.94},{"p":56,"s":"r","t":3.1,"y":0.98},{"p":56,"s":"r","t":3.5,"y":1},{"p":56,"s":"r","t":3.9,"y":0.9},{"p":56,"s":"r","t":4.3,"y":0.95},{"p":56,"s":"r","t":4.6,"y":0.88},{"p":56,"s":"r","t":4.95,"y":0.93},
{"p":56,"s":"b","t":0,"y":0.1},{"p":56,"s":"b","t":0.5,"y":0.14},{"p":56,"s":"b","t":1,"y":0.2},{"p":56,"s":"b","t":1.5,"y":0.3},{"p":56,"s":"b","t":1.9,"y":0.45},{"p":56,"s":"b","t":2.2,"y":0.62},{"p":56,"s":"b","t":2.4,"y":0.9},{"p":56,"s":"b","t":2.7,"y":1.05},{"p":56,"s":"b","t":3,"y":1.12},{"p":56,"s":"b","t":3.5,"y":1.12},{"p":56,"s":"b","t":4,"y":1.1},{"p":56,"s":"b","t":4.5,"y":1.12},{"p":56,"s":"b","t":4.95,"y":1.1},
{"p":57,"s":"r","t":0,"y":0.56},{"p":57,"s":"r","t":0.3,"y":0.72},{"p":57,"s":"r","t":0.6,"y":0.82},{"p":57,"s":"r","t":1,"y":0.85},{"p":57,"s":"r","t":1.3,"y":0.9},{"p":57,"s":"r","t":1.5,"y":0.97},{"p":57,"s":"r","t":1.8,"y":0.9},{"p":57,"s":"r","t":2.2,"y":0.87},{"p":57,"s":"r","t":2.7,"y":0.88},{"p":57,"s":"r","t":3.2,"y":0.87},{"p":57,"s":"r","t":3.7,"y":0.9},{"p":57,"s":"r","t":4.2,"y":0.86},{"p":57,"s":"r","t":4.6,"y":0.84},{"p":57,"s":"r","t":4.95,"y":0.84},
{"p":57,"s":"b","t":0,"y":0.12},{"p":57,"s":"b","t":0.5,"y":0.15},{"p":57,"s":"b","t":1,"y":0.22},{"p":57,"s":"b","t":1.5,"y":0.34},{"p":57,"s":"b","t":2,"y":0.52},{"p":57,"s":"b","t":2.4,"y":0.7},{"p":57,"s":"b","t":2.8,"y":0.83},{"p":57,"s":"b","t":3.2,"y":0.9},{"p":57,"s":"b","t":3.7,"y":0.95},{"p":57,"s":"b","t":4.1,"y":1},{"p":57,"s":"b","t":4.5,"y":1},{"p":57,"s":"b","t":4.95,"y":1.03},
{"p":58,"s":"r","t":0,"y":0.56},{"p":58,"s":"r","t":0.3,"y":0.74},{"p":58,"s":"r","t":0.6,"y":0.87},{"p":58,"s":"r","t":1,"y":0.95},{"p":58,"s":"r","t":1.5,"y":0.96},{"p":58,"s":"r","t":2,"y":0.96},{"p":58,"s":"r","t":3,"y":0.96},{"p":58,"s":"r","t":4,"y":0.96},{"p":58,"s":"r","t":4.5,"y":0.95},{"p":58,"s":"r","t":4.95,"y":0.94},
{"p":58,"s":"b","t":0,"y":0.12},{"p":58,"s":"b","t":0.4,"y":0.15},{"p":58,"s":"b","t":0.8,"y":0.2},{"p":58,"s":"b","t":1.2,"y":0.3},{"p":58,"s":"b","t":1.6,"y":0.45},{"p":58,"s":"b","t":2,"y":0.64},{"p":58,"s":"b","t":2.4,"y":0.8},{"p":58,"s":"b","t":2.8,"y":0.9},{"p":58,"s":"b","t":3.5,"y":0.93},{"p":58,"s":"b","t":4.2,"y":0.93},{"p":58,"s":"b","t":4.95,"y":0.93},
{"p":59,"s":"r","t":0,"y":0.54},{"p":59,"s":"r","t":0.2,"y":0.75},{"p":59,"s":"r","t":0.4,"y":0.92},{"p":59,"s":"r","t":0.7,"y":1},{"p":59,"s":"r","t":1,"y":1.02},{"p":59,"s":"r","t":1.5,"y":1.01},{"p":59,"s":"r","t":2,"y":1},{"p":59,"s":"r","t":2.5,"y":1},{"p":59,"s":"r","t":3,"y":0.99},{"p":59,"s":"r","t":3.5,"y":0.99},{"p":59,"s":"r","t":4,"y":0.99},{"p":59,"s":"r","t":4.5,"y":0.98},{"p":59,"s":"r","t":4.95,"y":0.98},
{"p":59,"s":"b","t":0,"y":0.12},{"p":59,"s":"b","t":0.4,"y":0.15},{"p":59,"s":"b","t":0.8,"y":0.22},{"p":59,"s":"b","t":1.2,"y":0.34},{"p":59,"s":"b","t":1.6,"y":0.5},{"p":59,"s":"b","t":2,"y":0.7},{"p":59,"s":"b","t":2.4,"y":0.87},{"p":59,"s":"b","t":2.7,"y":0.93},{"p":59,"s":"b","t":3.5,"y":0.94},{"p":59,"s":"b","t":4.2,"y":0.94},{"p":59,"s":"b","t":4.95,"y":0.94}
]},
"data":{"name":"curves"},
"transform":[{"lookup":"p","from":{"data":{"name":"panels"},"key":"p","fields":["R","D","bg"]}}],
"facet":{
"column":{"field":"R","type":"ordinal","sort":["0.001","0.005","0.01","0.025","0.05","0.075","0.1","0.15","0.2","0.25"],"title":"time (hrs)",
"header":{"labelExpr":"'R=' + datum.value","labelFont":"Liberation Sans","labelFontSize":14,"labelFontWeight":"bold","labelColor":"#000","labelPadding":4,"labelOrient":"top","titleOrient":"bottom","titleFont":"Liberation Sans","titleFontSize":14,"titleFontWeight":"normal","titleColor":"#333","titlePadding":2}},
"row":{"field":"D","type":"ordinal","sort":["17.6","11.8","5.88","2.94","1.18","0.118"],"title":null,
"header":{"labelOrient":"right","labelAngle":0,"labelAlign":"left","labelBaseline":"top","labelFont":"Liberation Sans","labelFontSize":13,"labelColor":"#222","labelPadding":-8}}
},
"spacing":{"row":38,"column":20},
"spec":{"width":57,"height":100,
"layer":[
{"transform":[{"filter":"datum.s=='r' && datum.t==0"}],"mark":{"type":"rect","stroke":"#3a3a3a","strokeWidth":1},
"encoding":{"x":{"datum":0,"type":"quantitative","title":null,"scale":{"domain":[0,4.95],"nice":false,"zero":false}},"x2":{"datum":4.95},
"y":{"datum":-0.1,"type":"quantitative","title":"OD","scale":{"domain":[-0.1,1.44],"nice":false,"zero":false}},"y2":{"datum":1.44},
"fill":{"field":"bg","type":"nominal","scale":{"domain":["k","n","g"],"range":["#FFC0C8","#FFFFFF","#C8FAC8"]},"legend":null}}},
{"transform":[{"filter":"datum.s=='b'"}],"mark":{"type":"line","color":"#1F73BD","strokeWidth":2},
"encoding":{"x":{"field":"t","type":"quantitative","title":null},"y":{"field":"y","type":"quantitative","title":"OD"}}},
{"transform":[{"filter":"datum.s=='r'"}],"mark":{"type":"line","color":"#FF1020","strokeWidth":2.2},
"encoding":{"x":{"field":"t","type":"quantitative","title":null},"y":{"field":"y","type":"quantitative","title":"OD"}}}
]},
"config":{"view":{"stroke":null},
"axis":{"grid":false,"domain":false,"labelFont":"Liberation Sans","titleFont":"Liberation Sans","labelFontSize":13,"labelColor":"#404040","titleColor":"#333","tickColor":"#404040","tickSize":-3,"labelPadding":8,"titleFontSize":14,"titleFontWeight":"normal"},
"axisX":{"values":[0,2,4],"labelPadding":7},
"axisY":{"values":[0,0.5,1],"titlePadding":6,"labelPadding":12}}
}
